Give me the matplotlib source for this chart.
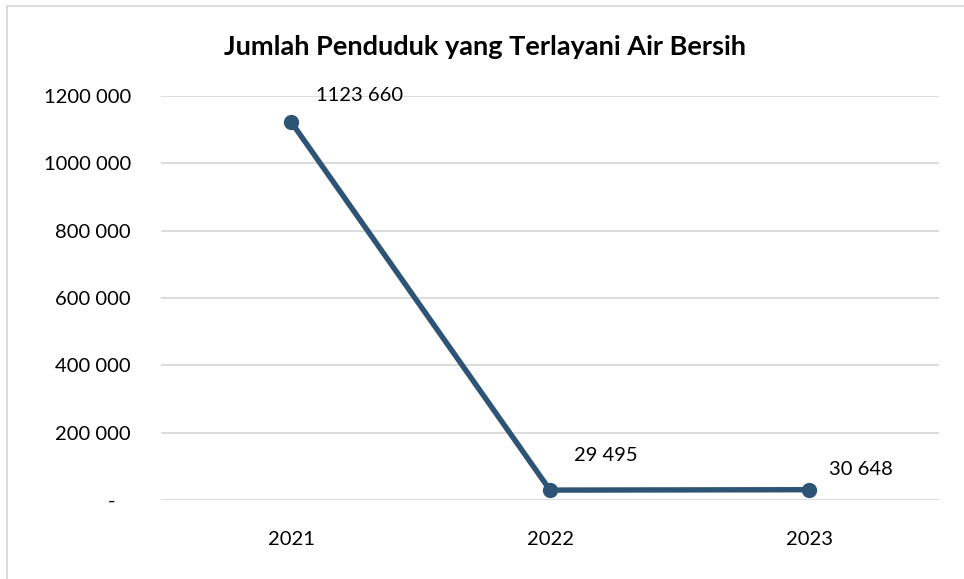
import matplotlib.pyplot as plt
from matplotlib.patches import Rectangle
from matplotlib.ticker import FuncFormatter

# data
tahun = ['2021', '2022', '2023']
penduduk = [1123660, 29495, 30648]
yticks = [0, 200000, 400000, 600000, 800000, 1000000, 1200000]

# offset label data (px) relatif ke titik
label_offsets = [(25, 26), (24, 35), (20, 20)]

plt.rcParams['font.family'] = ['Lato', 'DejaVu Sans']


def fmt_angka(v, pos=None):
    v = int(round(v))
    if v == 0:
        return '-   '
    if v < 1000:
        return str(v)
    return f"{v // 1000} {v % 1000:03d}"


fig = plt.figure(figsize=(9.64, 5.79), dpi=100)
ax = fig.add_axes([0.1675, 0.1364, 0.8061, 0.6978])

x = range(len(tahun))
ax.plot(x, penduduk, color='#2E5475', linewidth=3.9, marker='o',
        markersize=10, solid_capstyle='round', zorder=3)

for i, v in enumerate(penduduk):
    dx, dy = label_offsets[i]
    ax.annotate(fmt_angka(v), (i, v), xytext=(dx * 0.72, dy * 0.72),
                textcoords='offset points', ha='left', va='center',
                fontsize=14.5, color='#000000')

ax.set_xlim(-0.5, len(tahun) - 0.5)
ax.set_ylim(0, 1200000)
ax.set_xticks(list(x))
ax.set_xticklabels(tahun)
ax.set_yticks(yticks)
ax.yaxis.set_major_formatter(FuncFormatter(fmt_angka))
ax.tick_params(axis='both', length=0, labelsize=14.5, colors='#000000')
ax.tick_params(axis='y', pad=22)
ax.tick_params(axis='x', pad=22)
ax.grid(axis='y', color='#D9D9D9', linewidth=1.3)
ax.set_axisbelow(True)
for s in ax.spines.values():
    s.set_visible(False)

fig.text(0.503, 0.919, 'Jumlah Penduduk yang Terlayani Air Bersih',
         ha='center', va='center', fontsize=19.5, fontweight='bold')

# bingkai grafik
fig.patches.append(Rectangle((7 / 964, -0.1), 1.2, 1.1 - 6 / 579,
                             transform=fig.transFigure, fill=False,
                             edgecolor='#D9D9D9', linewidth=1.3))

fig.savefig('out.png', dpi=100)
